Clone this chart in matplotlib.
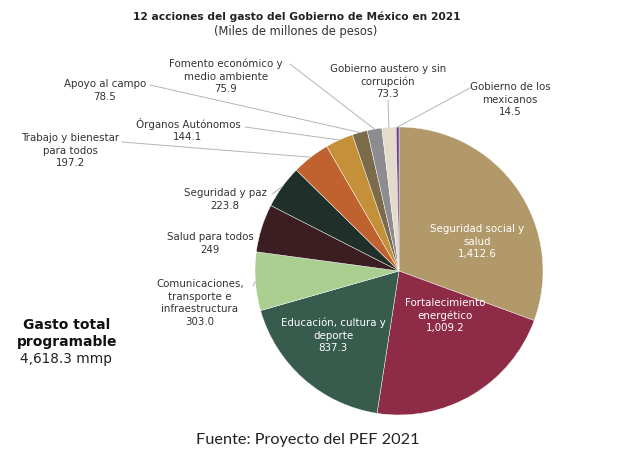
import numpy as np
import matplotlib
matplotlib.use("Agg")
import matplotlib.pyplot as plt

categories = [
    "Seguridad social y\nsalud",
    "Fortalecimiento\nenergético",
    "Educación, cultura y\ndeporte",
    "Comunicaciones,\ntransporte e\ninfraestructura",
    "Salud para todos",
    "Seguridad y paz",
    "Trabajo y bienestar\npara todos",
    "Órganos Autónomos",
    "Apoyo al campo",
    "Fomento económico y\nmedio ambiente",
    "Gobierno austero y sin\ncorrupción",
    "Gobierno de los\nmexicanos",
]
values = [1412.6, 1009.2, 837.3, 303.0, 249, 223.8, 197.2, 144.1, 78.5, 75.9, 73.3, 14.5]
value_labels = ["1,412.6", "1,009.2", "837.3", "303.0", "249", "223.8", "197.2",
                "144.1", "78.5", "75.9", "73.3", "14.5"]
colors = ["#B2996A", "#8E2B47", "#375B4C", "#AACF90", "#3B1D22", "#1F302B",
          "#BF6230", "#C4903A", "#7C6B4B", "#8D8C90", "#E4DBCB", "#6A3D9A"]

W, H = 640, 473
fig = plt.figure(figsize=(W / 100, H / 100), dpi=100)
FONT = "DejaVu Sans"

# pie axes: center (399,271), radius 144 px
cx, cy, r = 399, 271, 144
ax = fig.add_axes([(cx - r) / W, 1 - (cy + r) / H, 2 * r / W, 2 * r / H])
wedges, _ = ax.pie(values, colors=colors, startangle=90, counterclock=False,
                   radius=1, wedgeprops=dict(edgecolor="white", linewidth=0.3))
ax.set_xlim(-1, 1)
ax.set_ylim(-1, 1)
ax.set_aspect("equal")
ax.axis("off")


def fig_xy(x, y):
    return (x / W, 1 - y / H)


# label positions (text center x, first-line y) and leader line end (px, top-down)
label_pos = {
    0: (477, 229, None, True),
    1: (445, 303, None, True),
    2: (333, 323, None, True),
    3: (200, 284, (253, 286), False),
    4: (210, 237, None, False),
    5: (225, 193, (272, 194), False),
    6: (70, 138, (122, 142), False),
    7: (188, 124, (245, 127), False),
    8: (105, 84, (150, 85), False),
    9: (226, 64, (290, 64), False),
    10: (388, 69, (388, 100), False),
    11: (510, 87, (470, 88), False),
}

fs = 7.4
lsp = 12.6
for i, (cat, vl) in enumerate(zip(categories, value_labels)):
    x, y, lend, inside = label_pos[i]
    lines = cat.split("\n") + [vl]
    col = "white" if inside else "#333333"
    for k, line in enumerate(lines):
        fig.text(x / W, 1 - (y + k * lsp) / H, line, ha="center", va="center",
                 fontsize=fs, color=col, family=FONT)
    if lend is not None:
        w = wedges[i]
        mid = np.deg2rad((w.theta1 + w.theta2) / 2)
        px, py = np.cos(mid), np.sin(mid)
        ax.annotate("", xy=(px, py), xycoords="data",
                    xytext=fig_xy(*lend), textcoords="figure fraction",
                    arrowprops=dict(arrowstyle="-", color="#B5B5B5", lw=0.7,
                                    shrinkA=0, shrinkB=0))

fig.text(297 / W, 1 - 17 / H, "12 acciones del gasto del Gobierno de México en 2021",
         ha="center", va="center", fontsize=7.7, fontweight="bold", color="#222222", family=FONT)
fig.text(296 / W, 1 - 31 / H, "(Miles de millones de pesos)",
         ha="center", va="center", fontsize=8.3, color="#333333", family=FONT)

fig.text(67 / W, 1 - 325 / H, "Gasto total", ha="center", va="center",
         fontsize=10, fontweight="bold", color="#111111", family=FONT)
fig.text(67 / W, 1 - 342 / H, "programable", ha="center", va="center",
         fontsize=10, fontweight="bold", color="#111111", family=FONT)
fig.text(66 / W, 1 - 359 / H, "4,618.3 mmp", ha="center", va="center",
         fontsize=9.8, color="#222222", family=FONT)

fig.text(308 / W, 1 - 440 / H, "Fuente: Proyecto del PEF 2021", ha="center", va="center",
         fontsize=11.7, color="#222222", family="Lato")

fig.savefig("out.png", dpi=100)
